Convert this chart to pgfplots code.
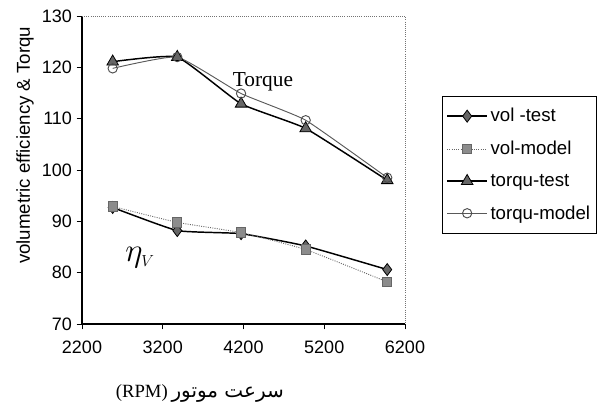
\documentclass[border=0pt]{standalone}
\usepackage{pgfplots}
\pgfplotsset{compat=1.18}
\usepackage{fontspec}
\setmainfont{Liberation Sans}
\newfontfamily\seriffont{Liberation Serif}
\newfontfamily\arabicfont[Script=Arabic]{DejaVu Sans}
\TeXXeTstate=1
\begin{document}
\begin{tikzpicture}
\begin{axis}[
  at={(61.5pt,65.25pt)}, anchor=south west,
  scale only axis, width=242.25pt, height=231pt,
  xmin=2200, xmax=6200, ymin=70, ymax=130,
  xtick={2200,3200,4200,5200,6200},
  ytick={70,80,90,100,110,120,130},
  scaled ticks=false,
  axis x line=bottom, axis y line=left,
  axis line style={-, black, line width=0.8pt},
  tick align=outside, major tick length=4pt,
  tick style={black, line width=0.6pt},
  /pgf/number format/assume math mode=true,
  /pgf/number format/1000 sep={},
  ticklabel style={font=\fontsize{13.5}{15}\selectfont},
  xticklabel style={yshift=-5pt},
  ylabel={volumetric efficiency \& Torqu},
  ylabel style={font=\fontsize{14}{16}\selectfont, at={(axis description cs:-0.176,0.58)}, anchor=center, rotate=0},
  xlabel={\beginR{\arabicfont\fontsize{15}{17}\selectfont سرعت موتور} \beginL{\seriffont\fontsize{14}{16}\selectfont (RPM)}\endL\endR},
  xlabel style={at={(axis description cs:0.365,-0.224)}, anchor=center},
  legend cell align=left,
  legend style={at={(1.1146,0.7403)}, anchor=north west, draw=black, line width=0.6pt,
    font=\fontsize{14}{16}\selectfont, row sep=9pt, inner xsep=3pt, inner ysep=7pt},
  legend image code/.code={\draw[#1] (0pt,0pt) -- (15pt,0pt) plot coordinates {(15pt,0pt)} -- (30pt,0pt);},
  clip=false,
]
\addplot[black, line width=1.1pt, smooth, tension=0.25, mark=diamond*, mark size=4.5pt, mark options={fill=black!60, draw=black, solid, line width=0.6pt}]
  coordinates {(2580,92.7) (3380,88.2) (4170,87.6) (4970,85.2) (5980,80.6)};
\addlegendentry{vol -test}
\addplot[black!60, line width=0.7pt, densely dotted, smooth, tension=0.25, mark=square*, mark size=3.5pt, mark options={fill=black!45, draw=black!60, solid}]
  coordinates {(2580,92.9) (3380,89.8) (4170,87.8) (4970,84.5) (5980,78.2)};
\addlegendentry{vol-model}
\addplot[black, line width=1.1pt, smooth, tension=0.25, mark=triangle*, mark size=5pt, mark options={fill=black!60, draw=black, solid, line width=0.6pt}]
  coordinates {(2580,121.1) (3380,122.0) (4170,112.9) (4970,108.1) (5980,98.0)};
\addlegendentry{torqu-test}
\addplot[black!65, line width=0.7pt, smooth, tension=0.25, mark=o, mark size=3.5pt, mark options={fill=white, draw=black!70, solid, line width=0.7pt}]
  coordinates {(2580,119.8) (3380,122.0) (4170,114.9) (4970,109.7) (5980,98.5)};
\addlegendentry{torqu-model}
\draw[black!55, densely dotted, line width=0.6pt] (rel axis cs:0,1) -- (rel axis cs:1,1) -- (rel axis cs:1,0);
\node[font=\seriffont\fontsize{16}{18}\selectfont] at (axis cs:4441,117.1) {Torque};
\node[font=\fontsize{25}{27}\selectfont] at (axis cs:2918,82.9) {$\eta_{\scriptscriptstyle V}$};
\end{axis}
\pgfresetboundingbox
\useasboundingbox (0,0) rectangle (450pt,308.25pt);
\end{tikzpicture}
\end{document}
